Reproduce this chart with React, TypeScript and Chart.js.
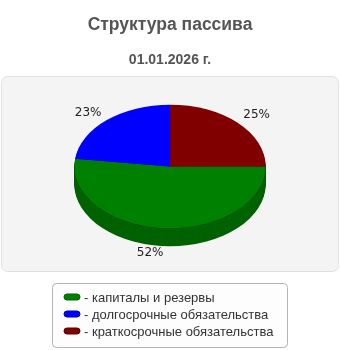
import { useEffect, useRef } from "react";
import { Chart, registerables } from "chart.js";

Chart.register(...registerables);

const categories = ["капиталы и резервы", "долгосрочные обязательства", "краткосрочные обязательства"];
const shares = [52, 23, 25];
const topColors = ["#008000", "#0000ff", "#800000"];
const sideColors = ["#006200", "#0000b4", "#5c0000"];
const titleText = "Структура пассива";
const subtitleText = "01.01.2026 г.";

const DEPTH = 18;
const TILT = 62 / 96;

function roundRect(ctx: CanvasRenderingContext2D, x: number, y: number, w: number, h: number, r: number) {
  ctx.beginPath();
  ctx.moveTo(x + r, y);
  ctx.lineTo(x + w - r, y);
  ctx.arcTo(x + w, y, x + w, y + r, r);
  ctx.lineTo(x + w, y + h - r);
  ctx.arcTo(x + w, y + h, x + w - r, y + h, r);
  ctx.lineTo(x + r, y + h);
  ctx.arcTo(x, y + h, x, y + h - r, r);
  ctx.lineTo(x, y + r);
  ctx.arcTo(x, y, x + r, y, r);
  ctx.closePath();
}

const pie3d = {
  id: "pie3d",
  beforeDraw(chart: any) {
    const ctx: CanvasRenderingContext2D = chart.ctx;
    ctx.save();
    roundRect(ctx, 1.5, 76.5, 337, 195, 6);
    ctx.fillStyle = "#f4f4f4";
    ctx.fill();
    ctx.strokeStyle = "#e0e0e0";
    ctx.lineWidth = 1;
    ctx.stroke();
    ctx.restore();
  },
  beforeDatasetsDraw(chart: any) {
    const ctx: CanvasRenderingContext2D = chart.ctx;
    const arcs = chart.getDatasetMeta(0).data;
    if (!arcs.length) return false;
    const props = arcs.map((a: any) => a.getProps(["x", "y", "startAngle", "endAngle", "outerRadius"], true));
    const cx = props[0].x;
    const cy = props[0].y;
    const slice = (p: any, dy: number) => {
      ctx.save();
      ctx.translate(cx, cy + dy);
      ctx.scale(1, TILT);
      ctx.beginPath();
      ctx.moveTo(0, 0);
      ctx.arc(0, 0, p.outerRadius, p.startAngle, p.endAngle);
      ctx.closePath();
      ctx.restore();
    };
    ctx.save();
    for (let d = DEPTH; d >= 1; d--) {
      props.forEach((p: any, i: number) => {
        slice(p, d);
        ctx.fillStyle = sideColors[i];
        ctx.fill();
      });
    }
    props.forEach((p: any) => {
      const s = Math.max(p.startAngle, 0);
      const e = Math.min(p.endAngle, Math.PI);
      if (e > s) {
        ctx.save();
        ctx.translate(cx, cy);
        ctx.scale(1, TILT);
        ctx.beginPath();
        ctx.arc(0, 0, p.outerRadius, s, e);
        ctx.restore();
        ctx.strokeStyle = "#004a00";
        ctx.lineWidth = 1;
        ctx.stroke();
      }
    });
    props.forEach((p: any, i: number) => {
      slice(p, 0);
      ctx.fillStyle = topColors[i];
      ctx.fill();
    });
    ctx.restore();
    return false;
  },
  afterDraw(chart: any) {
    const ctx: CanvasRenderingContext2D = chart.ctx;
    const arcs = chart.getDatasetMeta(0).data;
    const data: number[] = chart.data.datasets[0].data;
    const total = data.reduce((a, b) => a + b, 0);
    ctx.save();
    ctx.font = "12px 'DejaVu Sans'";
    ctx.fillStyle = "#222";
    arcs.forEach((a: any, i: number) => {
      const p = a.getProps(["x", "y", "startAngle", "endAngle", "outerRadius"], true);
      const mid = (p.startAngle + p.endAngle) / 2;
      const c = Math.cos(mid);
      const s = Math.sin(mid);
      const x = p.x + (p.outerRadius + 8) * c;
      let y;
      if (s < 0) {
        y = p.y + (p.outerRadius * TILT + 6) * s;
        ctx.textBaseline = "alphabetic";
      } else {
        y = p.y + DEPTH + (p.outerRadius * TILT + 1) * s;
        ctx.textBaseline = "top";
      }
      ctx.textAlign = c < 0 ? "right" : "left";
      ctx.fillText(Math.round((data[i] / total) * 100) + "%", x, y);
    });

    roundRect(ctx, 52.5, 283.5, 235, 64, 4);
    ctx.fillStyle = "#fdfdfd";
    ctx.fill();
    ctx.strokeStyle = "#b4b4b4";
    ctx.lineWidth = 1;
    ctx.stroke();
    const labels: string[] = chart.data.labels;
    const colors: string[] = chart.data.datasets[0].backgroundColor;
    ctx.font = "13px 'Liberation Sans'";
    ctx.textAlign = "left";
    ctx.textBaseline = "middle";
    labels.forEach((lab, i) => {
      const yy = 297 + i * 17;
      roundRect(ctx, 64, yy - 3, 16, 6, 3);
      ctx.fillStyle = colors[i];
      ctx.fill();
      ctx.strokeStyle = sideColors[i];
      ctx.stroke();
      ctx.fillStyle = "#333";
      ctx.fillText("- " + lab, 84, yy + 1);
    });
    ctx.restore();
  },
};

export default function App() {
  const ref = useRef<HTMLCanvasElement>(null);
  useEffect(() => {
    if (!ref.current) return;
    const chart = new Chart(ref.current, {
      type: "pie",
      data: {
        labels: categories,
        datasets: [{ data: shares, backgroundColor: topColors, borderWidth: 0 }],
      },
      options: {
        responsive: false,
        animation: false,
        rotation: 90,
        layout: { padding: { left: 74, right: 74, top: 0, bottom: 88 } },
        plugins: {
          legend: { display: false },
          tooltip: { enabled: false },
          title: {
            display: true,
            text: titleText,
            color: "#555",
            font: { family: "'Liberation Sans', Arial", size: 17.5, weight: "bold" },
            padding: { top: 15, bottom: 16 },
          },
          subtitle: {
            display: true,
            text: subtitleText,
            color: "#555",
            font: { family: "'Liberation Sans', Arial", size: 14, weight: "bold" },
            padding: { top: 0, bottom: 2 },
          },
        },
      },
      plugins: [pie3d],
    });
    return () => chart.destroy();
  }, []);
  return (
    <div style={{ position: "absolute", left: 0, top: 0, width: 340, height: 350 }}>
      <canvas ref={ref} width={340} height={350} />
    </div>
  );
}
